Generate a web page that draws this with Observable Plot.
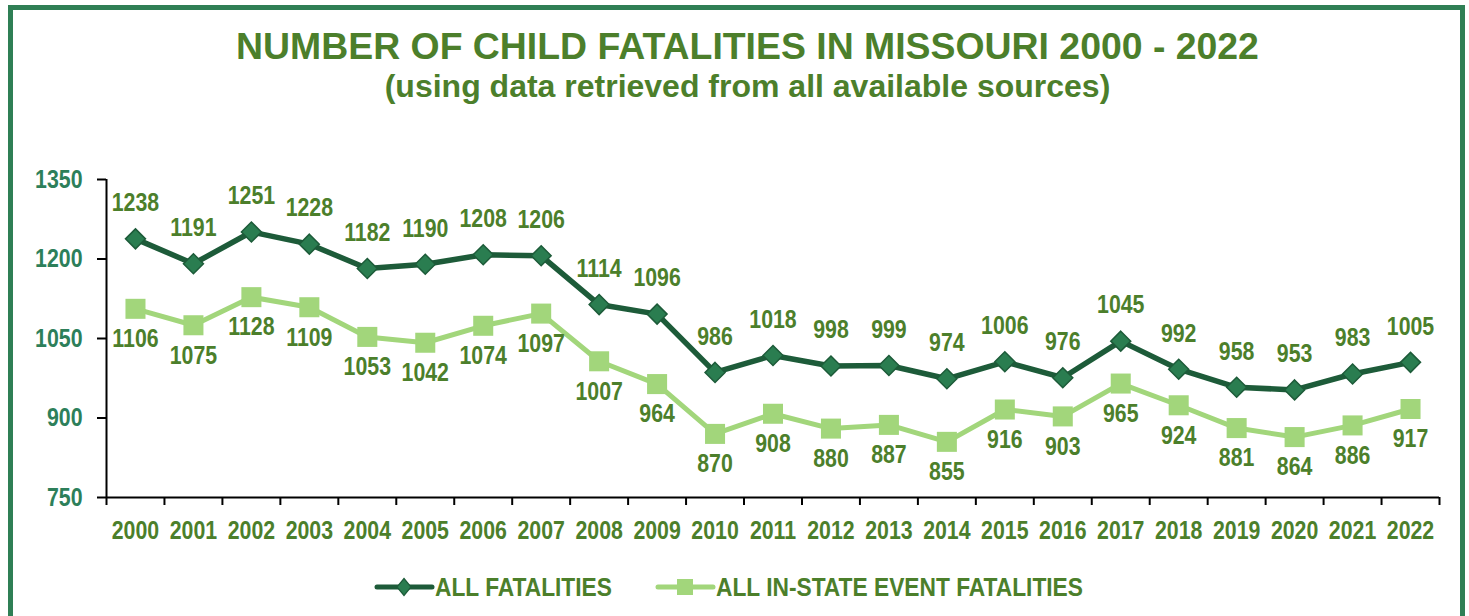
<!DOCTYPE html>
<html>
<head>
<meta charset="utf-8">
<script src="https://cdn.jsdelivr.net/npm/d3@7"></script>
<script src="https://cdn.jsdelivr.net/npm/@observablehq/plot@0.6"></script>
<style>
  html, body { margin: 0; padding: 0; background: #fff; width: 1469px; height: 616px; overflow: hidden; }
  body { position: relative; font-family: "Liberation Sans", Arial, sans-serif; }
  .frame { position: absolute; left: 8px; top: 5px; width: 1457px; height: 700px; box-sizing: border-box; border: 5px solid #2f7f55; }
  .title { position: absolute; left: 13px; width: 1469px; text-align: center; color: #4c7f2b; font-weight: bold; line-height: 1; white-space: nowrap; }
  #t1 { top: 28px; font-size: 37.4px; }
  #t2 { top: 70px; font-size: 32px; }
  #chart { position: absolute; left: 0; top: 120px; }
  #chart svg text { font-family: "Liberation Sans", Arial, sans-serif; font-weight: bold; font-size: 26px; }
  #legend { position: absolute; top: 575px; left: 0; height: 24px; }
  .item { position: absolute; top: 0; height: 24px; display: flex; align-items: center; }
  .item span { color: #4c7f2b; font-weight: bold; font-size: 26px; line-height: 1; white-space: nowrap; display: inline-block; transform: scaleX(0.875); transform-origin: left center; }
</style>
</head>
<body>
<div class="frame"></div>
<div class="title" id="t1">NUMBER OF CHILD FATALITIES IN MISSOURI 2000 - 2022</div>
<div class="title" id="t2">(using data retrieved from all available sources)</div>
<div id="chart"></div>
<div id="legend"></div>
<script>
const years = [2000,2001,2002,2003,2004,2005,2006,2007,2008,2009,2010,2011,2012,2013,2014,2015,2016,2017,2018,2019,2020,2021,2022];
const allFatalities = [1238,1191,1251,1228,1182,1190,1208,1206,1114,1096,986,1018,998,999,974,1006,976,1045,992,958,953,983,1005];
const inStateFatalities = [1106,1075,1128,1109,1053,1042,1074,1097,1007,964,870,908,880,887,855,916,903,965,924,881,864,886,917];
const yTicks = [750,900,1050,1200,1350];
const seriesNames = ["ALL FATALITIES", "ALL IN-STATE EVENT FATALITIES"];

const darkLine = "#1d5b39", darkFill = "#2a7d50", lightGreen = "#a2d67b";
const labelColor = "#4c7f2b", yLabelColor = "#2d7f5a";

const allData = years.map((y, i) => ({year: y, value: allFatalities[i]}));
const inData = years.map((y, i) => ({year: y, value: inStateFatalities[i]}));
const boundaries = [...years.map(y => y - 0.5), years[years.length - 1] + 0.5];

const plot = Plot.plot({
  width: 1469,
  height: 440,
  marginLeft: 106,
  marginRight: 30,
  marginTop: 59,
  marginBottom: 63,
  style: {background: "transparent", color: "#000", overflow: "visible"},
  x: {domain: [boundaries[0], boundaries[boundaries.length - 1]], axis: null},
  y: {domain: [yTicks[0], yTicks[yTicks.length - 1]], axis: null},
  marks: [
    Plot.axisY({ticks: yTicks, tickSize: 9, tickPadding: 15, stroke: "#000", strokeWidth: 2, fill: yLabelColor, fontSize: 26, tickFormat: d => String(d), label: null}),
    Plot.axisX({ticks: boundaries, tickSize: 8, stroke: "#000", strokeWidth: 2, tickFormat: () => "", label: null}),
    Plot.axisX({ticks: years, tickSize: 0, tickPadding: 23, tickFormat: d => String(d), fill: labelColor, fontSize: 26, label: null}),
    Plot.ruleX([boundaries[0]], {stroke: "#000", strokeWidth: 2}),
    Plot.ruleY([yTicks[0]], {stroke: "#000", strokeWidth: 2}),
    Plot.line(inData, {x: "year", y: "value", stroke: lightGreen, strokeWidth: 5}),
    Plot.dot(inData, {x: "year", y: "value", symbol: "square", r: 11.3, fill: lightGreen, stroke: "none"}),
    Plot.line(allData, {x: "year", y: "value", stroke: darkLine, strokeWidth: 5.5}),
    Plot.dot(allData, {x: "year", y: "value", symbol: "diamond2", r: 9, fill: darkFill, stroke: darkLine, strokeWidth: 1.5}),
    Plot.text(allData, {x: "year", y: "value", text: d => String(d.value), dy: -36, fill: labelColor, fontSize: 26}),
    Plot.text(inData, {x: "year", y: "value", text: d => String(d.value), dy: 30, fill: labelColor, fontSize: 26})
  ]
});
document.getElementById("chart").appendChild(plot);

// Emulate a narrow bold face: compress every chart text horizontally about its anchor
plot.querySelectorAll("text").forEach(t => {
  const x = +(t.getAttribute("x") || 0);
  const tr = t.getAttribute("transform") || "";
  t.setAttribute("transform", `${tr} translate(${x},0) scale(0.82,1) translate(${-x},0)`.trim());
});

// Legend
const legend = document.getElementById("legend");
function addItem(left, name, kind) {
  const item = document.createElement("div");
  item.className = "item";
  item.style.left = left + "px";
  const ns = "http://www.w3.org/2000/svg";
  const svg = document.createElementNS(ns, "svg");
  svg.setAttribute("width", 61); svg.setAttribute("height", 24);
  const line = document.createElementNS(ns, "line");
  line.setAttribute("x1", 3); line.setAttribute("x2", 58); line.setAttribute("y1", 12); line.setAttribute("y2", 12);
  line.setAttribute("stroke", kind === "dark" ? darkLine : lightGreen);
  line.setAttribute("stroke-width", 5); line.setAttribute("stroke-linecap", "round");
  svg.appendChild(line);
  if (kind === "dark") {
    const p = document.createElementNS(ns, "path");
    p.setAttribute("d", "M30,3.5 L37,12 L30,20.5 L23,12 Z");
    p.setAttribute("fill", darkFill); p.setAttribute("stroke", darkLine); p.setAttribute("stroke-width", 1.2);
    svg.appendChild(p);
  } else {
    const r = document.createElementNS(ns, "rect");
    r.setAttribute("x", 22); r.setAttribute("y", 4); r.setAttribute("width", 16); r.setAttribute("height", 16);
    r.setAttribute("fill", lightGreen);
    svg.appendChild(r);
  }
  item.appendChild(svg);
  const span = document.createElement("span");
  span.textContent = name;
  item.appendChild(span);
  legend.appendChild(item);
}
addItem(374, seriesNames[0], "dark");
addItem(655, seriesNames[1], "light");
</script>
</body>
</html>
